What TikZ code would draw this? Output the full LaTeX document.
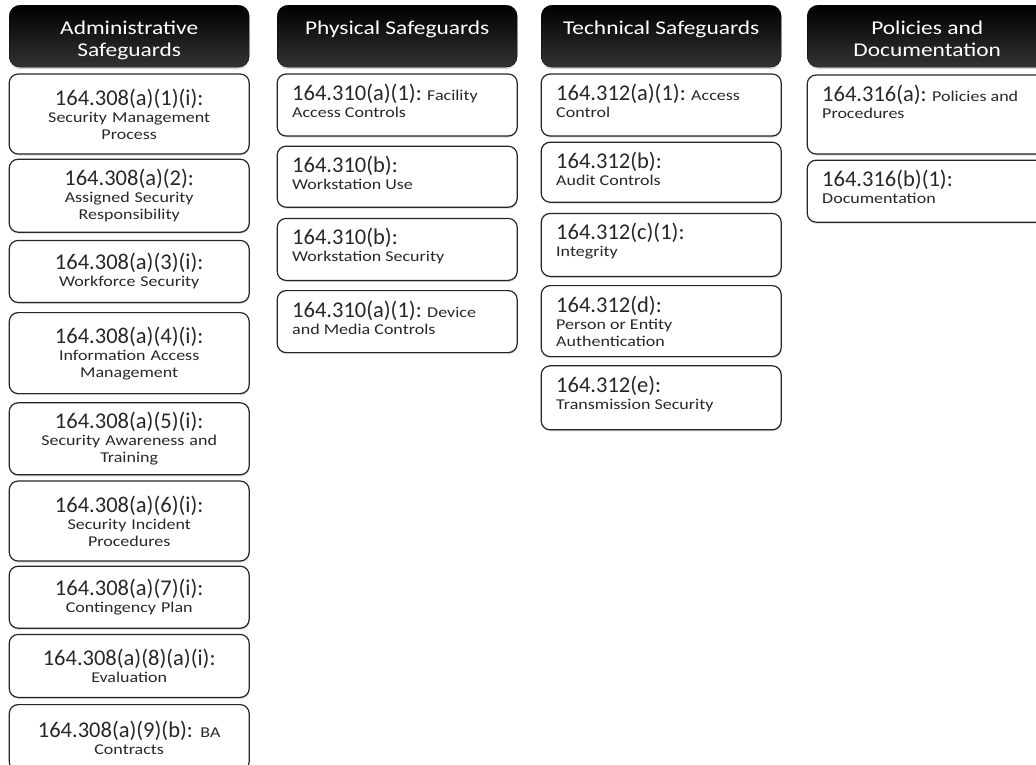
\documentclass[tikz,border=0pt]{standalone}
\usepackage{fontspec}
\setmainfont{Carlito}
\newfontfamily\smallfnt{Carlito}[FakeStretch=1.2]
\newfontfamily\headfnt{Carlito}[FakeStretch=1.2]
\usepackage{tikz}
\usetikzlibrary{positioning, shadows}
\definecolor{txtgray}{RGB}{40,40,40}
\newcommand{\secno}[1]{{\fontspec{Carlito}\fontsize{22.5}{17}\selectfont #1}}
\newcommand{\toptext}[2]{\parbox[c][#1][t]{210pt}{\raggedright #2}}
\newcommand{\headtext}[1]{\parbox[c][62pt][t]{240pt}{\vspace*{16pt}\centering #1}}

\begin{document}
\begin{tikzpicture}[
    x=1pt, y=1pt,
    headbox/.style={rectangle, rounded corners=11pt, top color=black, bottom color=black!80,
                    draw=black, inner sep=0pt, text=white,
                    font=\headfnt\fontsize{19.5}{22}\selectfont,
                    drop shadow={shadow xshift=0pt, shadow yshift=-2pt, opacity=0.3}},
    admbox/.style={rectangle, rounded corners=9pt, draw=black!85, line width=1.2pt, fill=white,
                   text width=226pt, align=center, inner xsep=7pt, text=txtgray,
                   font=\smallfnt\fontsize{15}{17}\selectfont,
                   drop shadow={shadow xshift=0.5pt, shadow yshift=-1.5pt, opacity=0.3}},
    regbox/.style={rectangle, rounded corners=9pt, draw=black!85, line width=1.2pt, fill=white,
                   inner xsep=15pt, inner ysep=10pt, text=txtgray,
                   font=\smallfnt\fontsize{15}{17}\selectfont,
                   drop shadow={shadow xshift=0.5pt, shadow yshift=-1.5pt, opacity=0.3}},
]
\useasboundingbox (0,0) rectangle (1036,-764);

% Administrative Safeguards
\node[headbox, anchor=north west] (hadm) at (9,-5) {\headtext{Administrative\\Safeguards}};
\node[admbox, minimum height=80pt, below=6pt of hadm] (adm1) {\secno{164.308(a)(1)(i):}\\Security Management\\Process};
\node[admbox, minimum height=73pt, below=4pt of adm1] (adm2) {\secno{164.308(a)(2):}\\Assigned Security\\Responsibility};
\node[admbox, minimum height=62pt, below=7pt of adm2] (adm3) {\secno{164.308(a)(3)(i):}\\Workforce Security};
\node[admbox, minimum height=81pt, below=9pt of adm3] (adm4) {\secno{164.308(a)(4)(i):}\\Information Access\\Management};
\node[admbox, minimum height=72pt, below=8pt of adm4] (adm5) {\secno{164.308(a)(5)(i):}\\Security Awareness and\\Training};
\node[admbox, minimum height=80pt, below=5pt of adm5] (adm6) {\secno{164.308(a)(6)(i):}\\Security Incident\\Procedures};
\node[admbox, minimum height=62pt, below=4pt of adm6] (adm7) {\secno{164.308(a)(7)(i):}\\Contingency Plan};
\node[admbox, minimum height=63pt, below=5pt of adm7] (adm8) {\secno{164.308(a)(8)(a)(i):}\\Evaluation};
\node[admbox, minimum height=66pt, below=6pt of adm8] (adm9) {\secno{164.308(a)(9)(b):} BA\\Contracts};

% Physical Safeguards
\node[headbox, anchor=north west] (hphy) at (277,-5) {\headtext{Physical Safeguards}};
\node[regbox, below=6pt of hphy] (phy1) {\toptext{42pt}{\secno{164.310(a)(1):} Facility\\Access Controls}};
\node[regbox, below=9pt of phy1] (phy2) {\toptext{41pt}{\secno{164.310(b):}\\Workstation Use}};
\node[regbox, below=10pt of phy2] (phy3) {\toptext{42pt}{\secno{164.310(b):}\\Workstation Security}};
\node[regbox, below=9pt of phy3] (phy4) {\toptext{42pt}{\secno{164.310(a)(1):} Device\\and Media Controls}};

% Technical Safeguards
\node[headbox, anchor=north west] (htec) at (541,-5) {\headtext{Technical Safeguards}};
\node[regbox, below=6pt of htec] (tec1) {\toptext{42pt}{\secno{164.312(a)(1):} Access\\Control}};
\node[regbox, below=5pt of tec1] (tec2) {\toptext{40pt}{\secno{164.312(b):}\\Audit Controls}};
\node[regbox, below=10pt of tec2] (tec3) {\toptext{43pt}{\secno{164.312(c)(1):}\\Integrity}};
\node[regbox, below=8pt of tec3] (tec4) {\toptext{51pt}{\secno{164.312(d):}\\Person or Entity\\Authentication}};
\node[regbox, below=8pt of tec4] (tec5) {\toptext{44pt}{\secno{164.312(e):}\\Transmission Security}};

% Policies and Documentation
\node[headbox, anchor=north west] (hpol) at (807,-5) {\headtext{Policies and\\Documentation}};
\node[regbox, below=7pt of hpol] (pol1) {\toptext{59pt}{\secno{164.316(a):} Policies and\\Procedures}};
\node[regbox, below=5pt of pol1] (pol2) {\toptext{42pt}{\secno{164.316(b)(1):}\\Documentation}};
\end{tikzpicture}
\end{document}
